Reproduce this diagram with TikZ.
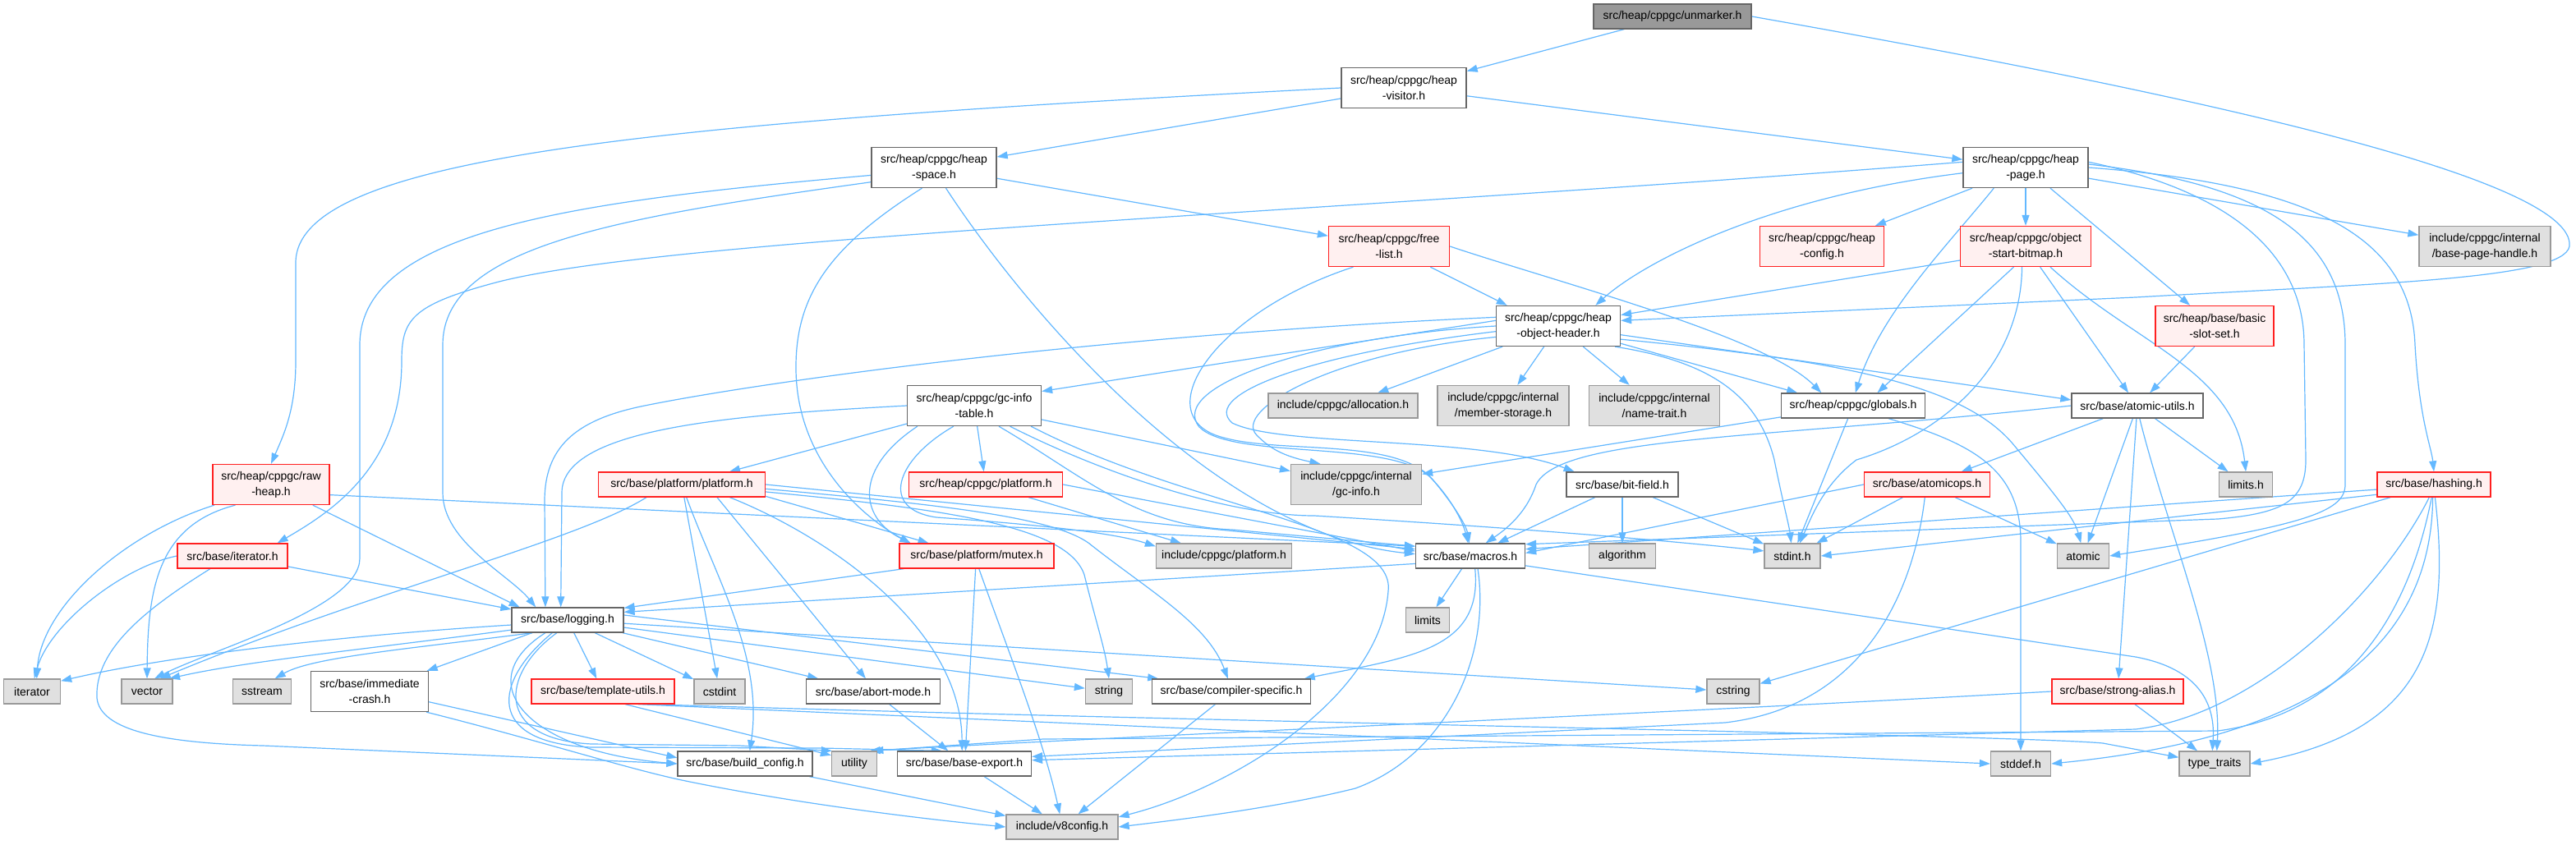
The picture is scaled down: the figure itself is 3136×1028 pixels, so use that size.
\documentclass[tikz,border=0pt]{standalone}
\usepackage{fontspec}
\setmainfont{Liberation Sans}
\usetikzlibrary{arrows.meta}
\pgfdeclarelayer{bg}
\pgfsetlayers{bg,main}
\definecolor{edgeblue}{HTML}{63B8FF}
\definecolor{bordergray}{HTML}{666666}
\definecolor{rootfill}{HTML}{999999}
\definecolor{grayfill}{HTML}{E0E0E0}
\definecolor{grayborder}{HTML}{999999}
\definecolor{redfill}{HTML}{FFF0F0}
\definecolor{redborder}{HTML}{FF2020}
\begin{document}
\begin{tikzpicture}[x=1pt,y=-1pt,
  basebox/.style={rectangle, inner sep=0pt, line width=1.3pt, align=center, font=\fontsize{14pt}{19pt}\selectfont},
  plainbox/.style={basebox, draw=bordergray, fill=white},
  graybox/.style={basebox, draw=grayborder, fill=grayfill},
  redbox/.style={basebox, draw=redborder, fill=redfill},
  rootbox/.style={basebox, draw=bordergray, fill=rootfill},
  sz/.style 2 args={minimum width=#1pt, minimum height=#2pt},
  e/.style={draw=edgeblue, line width=1.2pt, -{Triangle[length=13pt,width=9pt]}}]
\useasboundingbox (0,0) rectangle (3136,1028);
% ---------------- nodes ----------------
\node[rootbox, sz={192}{30}] (unmarker) at (2036,20) {src/heap/cppgc/unmarker.h};
\node[plainbox, sz={152}{49}] (hvisitor) at (1709,107) {src/heap/cppgc/heap\\-visitor.h};
\node[plainbox, sz={152}{49}] (hspace) at (1137,204) {src/heap/cppgc/heap\\-space.h};
\node[plainbox, sz={152}{49}] (hpage) at (2466,204) {src/heap/cppgc/heap\\-page.h};
\node[redbox, sz={147}{49}] (freelist) at (1691,300) {src/heap/cppgc/free\\-list.h};
\node[redbox, sz={151}{49}] (hconfig) at (2218,300) {src/heap/cppgc/heap\\-config.h};
\node[redbox, sz={159}{49}] (osb) at (2466,300) {src/heap/cppgc/object\\-start-bitmap.h};
\node[graybox, sz={160}{49}] (bph) at (3025,300) {include/cppgc/internal\\/base-page-handle.h};
\node[plainbox, sz={151}{49}] (ohdr) at (1897,397) {src/heap/cppgc/heap\\-object-header.h};
\node[redbox, sz={144}{49}] (bss) at (2696,397) {src/heap/base/basic\\-slot-set.h};
\node[plainbox, sz={163}{49}] (gcit) at (1186,494) {src/heap/cppgc/gc-info\\-table.h};
\node[graybox, sz={182}{30}] (alloc) at (1635,494) {include/cppgc/allocation.h};
\node[graybox, sz={160}{49}] (mstor) at (1830,494) {include/cppgc/internal\\/member-storage.h};
\node[graybox, sz={159}{49}] (ntrait) at (2014,494) {include/cppgc/internal\\/name-trait.h};
\node[plainbox, sz={175}{30}] (globals) at (2256,494) {src/heap/cppgc/globals.h};
\node[plainbox, sz={160}{30}] (autils) at (2602,494) {src/base/atomic-utils.h};
\node[redbox, sz={142}{49}] (rawheap) at (330,590) {src/heap/cppgc/raw\\-heap.h};
\node[redbox, sz={203}{30}] (bplat) at (830,590) {src/base/platform/platform.h};
\node[redbox, sz={187}{30}] (cplat) at (1200,590) {src/heap/cppgc/platform.h};
\node[graybox, sz={159}{49}] (gcinfo) at (1651,590) {include/cppgc/internal\\/gc-info.h};
\node[plainbox, sz={136}{30}] (bitfield) at (1975,590) {src/base/bit-field.h};
\node[redbox, sz={153}{30}] (atomicops) at (2346,590) {src/base/atomicops.h};
\node[graybox, sz={65}{30}] (limitsh) at (2734,590) {limits.h};
\node[redbox, sz={138}{30}] (hashing) at (2963,590) {src/base/hashing.h};
\node[redbox, sz={134}{30}] (iterh) at (283,677) {src/base/iterator.h};
\node[redbox, sz={188}{30}] (mutex) at (1189,677) {src/base/platform/mutex.h};
\node[graybox, sz={165}{30}] (icplat) at (1490,677) {include/cppgc/platform.h};
\node[plainbox, sz={133}{30}] (macros) at (1790,677) {src/base/macros.h};
\node[graybox, sz={81}{30}] (algorithm) at (1975,677) {algorithm};
\node[graybox, sz={68}{30}] (stdint) at (2182,677) {stdint.h};
\node[graybox, sz={63}{30}] (atomic) at (2536,677) {atomic};
\node[plainbox, sz={136}{30}] (logging) at (691,755) {src/base/logging.h};
\node[graybox, sz={53}{30}] (limits) at (1738,755) {limits};
\node[graybox, sz={69}{30}] (iterator) at (39,842) {iterator};
\node[graybox, sz={62}{30}] (vector) at (179,842) {vector};
\node[graybox, sz={71}{30}] (sstream) at (319,842) {sstream};
\node[plainbox, sz={143}{49}] (icrash) at (450,842) {src/base/immediate\\-crash.h};
\node[redbox, sz={174}{30}] (tutils) at (734,842) {src/base/template-utils.h};
\node[graybox, sz={62}{30}] (cstdint) at (876,842) {cstdint};
\node[plainbox, sz={163}{30}] (abort) at (1063,842) {src/base/abort-mode.h};
\node[graybox, sz={57}{30}] (string) at (1350,842) {string};
\node[plainbox, sz={193}{30}] (compspec) at (1499,842) {src/base/compiler-specific.h};
\node[graybox, sz={64}{30}] (cstring) at (2110,842) {cstring};
\node[redbox, sz={160}{30}] (salias) at (2578,842) {src/base/strong-alias.h};
\node[plainbox, sz={164}{30}] (buildcfg) at (907,930) {src/base/build\_config.h};
\node[graybox, sz={55}{30}] (utility) at (1040,930) {utility};
\node[plainbox, sz={163}{30}] (bexport) at (1174,930) {src/base/base-export.h};
\node[graybox, sz={73}{30}] (stddef) at (2460,930) {stddef.h};
\node[graybox, sz={86}{30}] (ttraits) at (2696,930) {type\_traits};
\node[graybox, sz={136}{30}] (v8config) at (1293,1007) {include/v8config.h};
% ---------------- edges ----------------
\begin{pgfonlayer}{bg}
\fill[white] (0,0) rectangle (3136,1028);
% unmarker
\draw[e] (unmarker) -- (hvisitor);
\draw[e] (unmarker.east) .. controls (2700,120) and (3136,220) .. (3128,300) .. controls (3120,340) and (2900,345) .. (2600,362) -- (ohdr.5);
% heap-visitor
\draw[e] (hvisitor) -- (hspace);
\draw[e] (hvisitor) -- (hpage);
\draw[e] (hvisitor.west) .. controls (800,150) and (360,190) .. (360,320) -- (360,440) .. controls (360,500) and (345,530) .. (rawheap.north);
% heap-space
\draw[e] (hspace) -- (freelist);
\draw[e] (hspace.-60) .. controls (1250,380) and (1480,650) .. (macros.178);
\draw[e] (hspace.-120) .. controls (1010,300) and (968,360) .. (969,450) .. controls (970,560) and (1050,630) .. (mutex.169);
\draw[e] (hspace.187) .. controls (700,245) and (438,280) .. (438,420) -- (438,680) .. controls (438,740) and (260,790) .. (vector.60);
\draw[e] (hspace.193) .. controls (750,265) and (539,300) .. (539,420) -- (539,600) .. controls (539,660) and (620,700) .. (logging.158);
% heap-page
\draw[e] (hpage.175) .. controls (1600,260) and (800,290) .. (600,345) .. controls (500,372) and (489,390) .. (489,440) .. controls (489,570) and (400,625) .. (iterh.16);
\draw[e] (hpage) -- (hconfig);
\draw[e] (hpage) -- (osb);
\draw[e] (hpage) -- (bph);
\draw[e] (hpage) -- (bss);
\draw[e] (hpage.185) .. controls (2150,240) and (2000,320) .. (ohdr.29);
\draw[e] (hpage.-147) .. controls (2370,300) and (2290,380) .. (globals.80);
\draw[e] (hpage.5) .. controls (2700,230) and (2805,300) .. (2805,420) -- (2807,560) .. controls (2807,610) and (2780,625) .. (2700,632) -- (macros.12);
\draw[e] (hpage.3) .. controls (2760,225) and (2855,290) .. (2855,420) -- (2855,590) .. controls (2855,625) and (2800,640) .. (atomic.east);
\draw[e] (hpage.0) .. controls (2820,225) and (2935,290) .. (2940,420) .. controls (2945,510) and (2960,545) .. (hashing.north);
% free-list
\draw[e] (freelist) -- (ohdr.158);
\draw[e] (freelist.east) .. controls (1900,345) and (2150,410) .. (globals.158);
\draw[e] (freelist.-150) .. controls (1480,380) and (1400,500) .. (1480,530) .. controls (1550,555) and (1700,530) .. (1745,585) .. controls (1770,615) and (1785,640) .. (macros.95);
% object-start-bitmap
\draw[e] (osb.192) -- (ohdr.10);
\draw[e] (osb.-120) -- (globals.28);
\draw[e] (osb) -- (autils);
\draw[e] (osb.-40) .. controls (2600,420) and (2720,450) .. (limitsh.north);
\draw[e] (osb.-100) .. controls (2460,450) and (2360,530) .. (2260,560) .. controls (2220,590) and (2205,630) .. (stdint.60);
% basic-slot-set
\draw[e] (bss) -- (autils);
% heap-object-header
\draw[e] (ohdr) -- (alloc);
\draw[e] (ohdr) -- (mstor);
\draw[e] (ohdr) -- (ntrait);
\draw[e] (ohdr) -- (globals.167);
\draw[e] (ohdr.-8) -- (autils.175);
\draw[e] (ohdr.-12) .. controls (2250,440) and (2390,470) .. (2450,540) .. controls (2500,600) and (2525,630) .. (atomic.100);
\draw[e] (ohdr.-20) .. controls (2080,440) and (2140,480) .. (2160,560) .. controls (2170,610) and (2178,640) .. (stdint.95);
\draw[e] (ohdr.185) .. controls (1600,430) and (1460,480) .. (1500,515) .. controls (1560,545) and (1800,530) .. (bitfield.165);
\draw[e] (ohdr.190) .. controls (1620,430) and (1500,500) .. (1530,530) .. controls (1545,545) and (1560,555) .. (gcinfo.150);
\draw[e] (ohdr.175) -- (gcit.12);
\draw[e] (ohdr.172) .. controls (1300,410) and (900,470) .. (780,495) .. controls (700,512) and (663,545) .. (663,610) -- (logging.150);
\draw[e] (ohdr.west) .. controls (1600,410) and (1420,470) .. (1460,520) .. controls (1500,560) and (1690,535) .. (1740,580) .. controls (1770,610) and (1782,640) .. (macros.100);
% gc-info-table
\draw[e] (gcit) -- (bplat);
\draw[e] (gcit) -- (cplat);
\draw[e] (gcit) -- (gcinfo);
\draw[e] (gcit.-160) .. controls (1040,570) and (1045,630) .. (mutex.169);
\draw[e] (gcit.-135) .. controls (1090,560) and (1070,620) .. (1140,630) .. controls (1280,640) and (1360,650) .. (icplat.172);
\draw[e] (gcit.-40) .. controls (1320,580) and (1380,640) .. (1500,645) -- (macros.170);
\draw[e] (gcit.-30) .. controls (1350,580) and (1500,628) .. (1600,628) .. controls (1800,640) and (2000,655) .. (stdint.170);
\draw[e] (gcit.-20) .. controls (1450,620) and (1700,640) .. (1690,720) .. controls (1680,850) and (1500,960) .. (v8config.10);
\draw[e] (gcit.west) .. controls (900,505) and (684,520) .. (684,600) -- (logging.118);
% globals
\draw[e] (globals) -- (gcinfo);
\draw[e] (globals) -- (stdint);
\draw[e] (globals.-20) .. controls (2400,540) and (2460,570) .. (2460,660) -- (stddef.north);
% atomic-utils
\draw[e] (autils) -- (atomicops);
\draw[e] (autils) -- (limitsh);
\draw[e] (autils) -- (atomic);
\draw[e] (autils) -- (salias);
\draw[e] (autils.-80) .. controls (2640,650) and (2705,800) .. (ttraits.80);
\draw[e] (autils.west) .. controls (2150,535) and (1900,530) .. (1870,590) .. controls (1860,620) and (1840,640) .. (macros.40);
% atomicops
\draw[e] (atomicops.west) -- (macros.3);
\draw[e] (atomicops) -- (stdint);
\draw[e] (atomicops) -- (atomic);
\draw[e] (atomicops.-100) .. controls (2330,720) and (2270,860) .. (2100,880) -- (bexport.6);
% bit-field
\draw[e] (bitfield) -- (macros);
\draw[e] (bitfield) -- (algorithm);
\draw[e] (bitfield) -- (stdint);
% hashing
\draw[e] (hashing.185) -- (macros.7);
\draw[e] (hashing.190) -- (stdint.east);
\draw[e] (hashing) -- (cstring);
\draw[e] (hashing.-110) .. controls (2900,720) and (2750,870) .. (2600,888) -- (bexport.3);
\draw[e] (hashing.-100) .. controls (2930,760) and (2850,870) .. (2700,890) -- (1270,900) -- (utility.35);
\draw[e] (hashing.-95) .. controls (2960,800) and (2800,900) .. (stddef.east);
\draw[e] (hashing.-85) .. controls (2985,780) and (2950,890) .. (ttraits.east);
% strong-alias
\draw[e] (salias) -- (ttraits);
\draw[e] (salias.west) .. controls (2000,870) and (1400,895) .. (utility.40);
% cppgc platform
\draw[e] (cplat) -- (icplat);
\draw[e] (cplat.east) -- (macros.175);
% base platform
\draw[e] (bplat.-160) .. controls (700,660) and (450,720) .. (vector.45);
\draw[e] (bplat) -- (cstdint);
\draw[e] (bplat.-70) .. controls (870,700) and (930,800) .. (buildcfg.70);
\draw[e] (bplat.-20) -- (abort.120);
\draw[e] (bplat.-15) .. controls (1000,650) and (1170,760) .. (bexport.100);
\draw[e] (bplat.-8) -- (mutex.165);
\draw[e] (bplat.-5) .. controls (1150,620) and (1300,640) .. (1320,700) .. controls (1335,760) and (1345,790) .. (string.north);
\draw[e] (bplat.-3) .. controls (1150,615) and (1290,630) .. (1330,665) .. controls (1400,720) and (1470,760) .. (compspec.105);
\draw[e] (bplat.0) -- (macros.173);
% mutex
\draw[e] (mutex.190) -- (logging.12);
\draw[e] (mutex.-95) -- (bexport.85);
\draw[e] (mutex.-80) .. controls (1230,800) and (1270,900) .. (v8config.100);
% raw-heap
\draw[e] (rawheap.-160) .. controls (150,650) and (50,740) .. (iterator.70);
\draw[e] (rawheap.-150) .. controls (190,640) and (180,720) .. (vector.north);
\draw[e] (rawheap) -- (logging.165);
\draw[e] (rawheap.-10) -- (macros.170);
% iterator.h
\draw[e] (iterh.west) .. controls (150,690) and (60,760) .. (iterator.80);
\draw[e] (iterh) -- (logging);
\draw[e] (iterh.-150) .. controls (180,740) and (115,790) .. (118,850) .. controls (122,890) and (200,905) .. (320,908) -- (buildcfg.west);
% logging
\draw[e] (logging.185) .. controls (400,775) and (200,800) .. (iterator.20);
\draw[e] (logging.190) .. controls (450,790) and (300,805) .. (vector.30);
\draw[e] (logging.-160) .. controls (500,790) and (380,800) .. (sstream.45);
\draw[e] (logging) -- (icrash);
\draw[e] (logging) -- (tutils);
\draw[e] (logging) -- (cstdint);
\draw[e] (logging) -- (abort);
\draw[e] (logging) -- (string);
\draw[e] (logging.5) -- (compspec.170);
\draw[e] (logging) -- (cstring);
\draw[e] (logging.-150) .. controls (570,830) and (640,915) .. (buildcfg.west);
\draw[e] (logging.-130) .. controls (610,820) and (600,900) .. (720,906) -- (900,908) -- (utility.150);
\draw[e] (logging.-140) .. controls (600,830) and (590,905) .. (720,910) -- (1000,911) -- (bexport.150);
% immediate-crash
\draw[e] (icrash.-10) -- (buildcfg.175);
\draw[e] (icrash.-20) .. controls (650,900) and (760,935) .. (830,950) .. controls (950,975) and (1100,995) .. (v8config.west);
% template-utils
\draw[e] (tutils.-30) -- (utility.160);
\draw[e] (tutils.-20) -- (stddef.west);
\draw[e] (tutils.-15) .. controls (1500,880) and (2450,895) .. (2560,905) -- (ttraits.170);
% abort-mode, compiler-specific
\draw[e] (abort) -- (bexport);
\draw[e] (compspec) -- (v8config);
% macros
\draw[e] (macros) -- (limits);
\draw[e] (macros.-70) .. controls (1805,790) and (1720,800) .. (compspec.10);
\draw[e] (macros.-60) .. controls (1815,800) and (1760,920) .. (1650,960) .. controls (1550,985) and (1420,1000) .. (v8config.east);
\draw[e] (macros.-10) -- (2600,800) .. controls (2680,815) and (2697,860) .. (ttraits.100);
\draw[e] (macros.188) -- (logging.8);
% build_config, base-export
\draw[e] (buildcfg) -- (v8config);
\draw[e] (bexport) -- (v8config);
\end{pgfonlayer}
\end{tikzpicture}
\end{document}
